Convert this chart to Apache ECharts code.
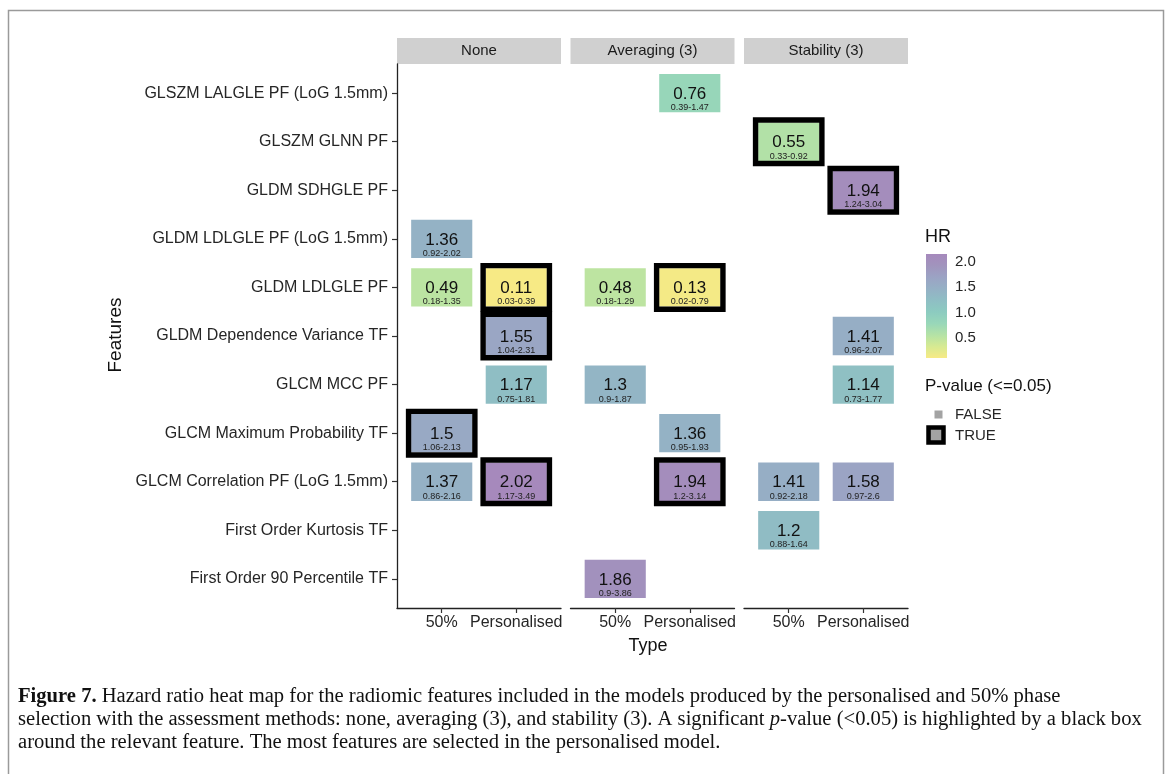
<!DOCTYPE html>
<html>
<head>
<meta charset="utf-8">
<script src="https://cdn.jsdelivr.net/npm/echarts@6/dist/echarts.min.js"></script>
<style>
html,body{margin:0;padding:0;background:#fff;}
#chart{width:1168px;height:774px;}
</style>
</head>
<body>
<div id="chart"></div>
<script>
// ---------- data ----------
const features = [
  "GLSZM LALGLE PF (LoG 1.5mm)",
  "GLSZM GLNN PF",
  "GLDM SDHGLE PF",
  "GLDM LDLGLE PF (LoG 1.5mm)",
  "GLDM LDLGLE PF",
  "GLDM Dependence Variance TF",
  "GLCM MCC PF",
  "GLCM Maximum Probability TF",
  "GLCM Correlation PF (LoG 1.5mm)",
  "First Order Kurtosis TF",
  "First Order 90 Percentile TF"
];
const types = ["50%", "Personalised"];
const methods = ["None", "Averaging (3)", "Stability (3)"];

// None
const noneFeature = ["GLDM LDLGLE PF (LoG 1.5mm)", "GLDM LDLGLE PF", "GLDM LDLGLE PF", "GLDM Dependence Variance TF", "GLCM MCC PF", "GLCM Maximum Probability TF", "GLCM Correlation PF (LoG 1.5mm)", "GLCM Correlation PF (LoG 1.5mm)"];
const noneType    = ["50%", "50%", "Personalised", "Personalised", "Personalised", "50%", "50%", "Personalised"];
const noneHR      = [1.36, 0.49, 0.11, 1.55, 1.17, 1.5, 1.37, 2.02];
const noneLow     = [0.92, 0.18, 0.03, 1.04, 0.75, 1.06, 0.86, 1.17];
const noneHigh    = [2.02, 1.35, 0.39, 2.31, 1.81, 2.13, 2.16, 3.49];
const noneSig     = [false, false, true, true, false, true, false, true];

// Averaging (3)
const avgFeature = ["GLSZM LALGLE PF (LoG 1.5mm)", "GLDM LDLGLE PF", "GLDM LDLGLE PF", "GLCM MCC PF", "GLCM Maximum Probability TF", "GLCM Correlation PF (LoG 1.5mm)", "First Order 90 Percentile TF"];
const avgType    = ["Personalised", "50%", "Personalised", "50%", "Personalised", "Personalised", "50%"];
const avgHR      = [0.76, 0.48, 0.13, 1.3, 1.36, 1.94, 1.86];
const avgLow     = [0.39, 0.18, 0.02, 0.9, 0.95, 1.2, 0.9];
const avgHigh    = [1.47, 1.29, 0.79, 1.87, 1.93, 3.14, 3.86];
const avgSig     = [false, false, true, false, false, true, false];

// Stability (3)
const stabFeature = ["GLSZM GLNN PF", "GLDM SDHGLE PF", "GLDM Dependence Variance TF", "GLCM MCC PF", "GLCM Correlation PF (LoG 1.5mm)", "GLCM Correlation PF (LoG 1.5mm)", "First Order Kurtosis TF"];
const stabType    = ["50%", "Personalised", "Personalised", "Personalised", "50%", "Personalised", "50%"];
const stabHR      = [0.55, 1.94, 1.41, 1.14, 1.41, 1.58, 1.2];
const stabLow     = [0.33, 1.24, 0.96, 0.73, 0.92, 0.97, 0.88];
const stabHigh    = [0.92, 3.04, 2.07, 1.77, 2.18, 2.6, 1.64];
const stabSig     = [true, true, false, false, false, false, false];

const hrMin = 0.11, hrMax = 2.02;
const legendTicks = [0.5, 1.0, 1.5, 2.0];
const pLegend = ["FALSE", "TRUE"];

// colour scale (viridis, reversed, light) low -> high
const hrColors = ['#f7ea85', '#d6ea92', '#b4e2a6', '#98d7b9', '#8ccbc0', '#8fbec4', '#95b0c5', '#9ba3c4', '#a194bd', '#a689bc'];

// ---------- build ----------
function build(fe, ty, hr, lo, hi, sig) {
  return hr.map((v, i) => [types.indexOf(ty[i]), features.indexOf(fe[i]), v, lo[i], hi[i], sig[i] ? 1 : 0]);
}
const panelData = [
  build(noneFeature, noneType, noneHR, noneLow, noneHigh, noneSig),
  build(avgFeature, avgType, avgHR, avgLow, avgHigh, avgSig),
  build(stabFeature, stabType, stabHR, stabLow, stabHigh, stabSig)
];

const FONT = '"Liberation Sans", Arial, sans-serif';
const SERIF = '"Liberation Serif", "Times New Roman", serif';

const panelLeft = [397, 570.5, 744];
const panelW = 164;
const panelTop = 64;
const panelH = 544;

function renderTile(params, api) {
  const c = api.coord([api.value(0), api.value(1)]);
  const s = api.size([1, 1]);
  const w = s[0] * 0.82, h = s[1] * 0.79;
  const color = api.visual('color');
  const sig = api.value(5);
  const children = [{
    type: 'rect',
    shape: { x: c[0] - w / 2, y: c[1] - h / 2, width: w, height: h },
    style: { fill: color }
  }];
  if (sig) {
    children.push({
      type: 'rect',
      shape: { x: c[0] - w / 2 - 2.6, y: c[1] - h / 2 - 2.6, width: w + 5.2, height: h + 5.2 },
      style: { fill: null, stroke: '#000', lineWidth: 5.4 }
    });
  }
  children.push({
    type: 'text',
    style: { text: String(api.value(2)), x: c[0], y: c[1] + 1, align: 'center', verticalAlign: 'middle', font: '17px ' + FONT, fill: '#111' }
  });
  children.push({
    type: 'text',
    style: { text: String(api.value(3)) + '-' + String(api.value(4)), x: c[0], y: c[1] + 14.5, align: 'center', verticalAlign: 'middle', font: '9px ' + FONT, fill: '#222' }
  });
  return { type: 'group', children: children };
}

const grids = [], xAxes = [], yAxes = [], series = [];
for (let p = 0; p < 3; p++) {
  grids.push({ left: panelLeft[p], top: panelTop, width: panelW, height: panelH });
  xAxes.push({
    type: 'value', gridIndex: p, min: -0.6, max: 1.6,
    splitLine: { show: false },
    axisLine: { show: true, onZero: false, lineStyle: { color: '#222', width: 1.3 } },
    axisTick: { show: true, customValues: [0, 1], length: 5, lineStyle: { color: '#333', width: 1.2 } },
    axisLabel: { customValues: [0, 1], formatter: v => types[Math.round(v)], fontSize: 16, fontFamily: FONT, color: '#262626', margin: 7 }
  });
  yAxes.push({
    type: 'value', gridIndex: p, min: -0.6, max: 10.6, inverse: true,
    splitLine: { show: false },
    axisLine: { show: p === 0, onZero: false, lineStyle: { color: '#222', width: 1.3 } },
    axisTick: { show: p === 0, customValues: features.map((f, i) => i), length: 5, lineStyle: { color: '#333', width: 1.2 } },
    axisLabel: { show: p === 0, customValues: features.map((f, i) => i), formatter: v => features[Math.round(v)], fontSize: 16, fontFamily: FONT, color: '#262626', margin: 9 }
  });
  series.push({
    type: 'custom', xAxisIndex: p, yAxisIndex: p, renderItem: renderTile,
    encode: { x: 0, y: 1 }, data: panelData[p], clip: false, silent: true
  });
}

// colour bar legend grid
const cbGrid = 3;
grids.push({ left: 926, top: 254, width: 21, height: 104 });
xAxes.push({ type: 'value', gridIndex: cbGrid, min: 0, max: 1, show: false });
yAxes.push({
  type: 'value', gridIndex: cbGrid, min: hrMin, max: 2.15, position: 'right',
  splitLine: { show: false }, axisLine: { show: false },
  axisTick: { show: true, inside: true, customValues: legendTicks, length: 4, lineStyle: { color: '#fff', width: 1 } },
  axisLabel: { customValues: legendTicks, formatter: v => v.toFixed(1), fontSize: 15, fontFamily: FONT, color: '#262626', margin: 8 }
});
yAxes.push({
  type: 'value', gridIndex: cbGrid, min: hrMin, max: 2.15, position: 'left',
  splitLine: { show: false }, axisLine: { show: false }, axisLabel: { show: false },
  axisTick: { show: true, inside: true, customValues: legendTicks, length: 4, lineStyle: { color: '#fff', width: 1 } }
});
series.push({
  type: 'custom', xAxisIndex: cbGrid, yAxisIndex: 3, silent: true, z: 1,
  data: [[0, hrMin, 1, 2.15]],
  renderItem: function (params, api) {
    const a = api.coord([api.value(0), api.value(1)]);
    const b = api.coord([api.value(2), api.value(3)]);
    return {
      type: 'rect',
      shape: { x: a[0], y: b[1], width: b[0] - a[0], height: a[1] - b[1] },
      style: {
        fill: {
          type: 'linear', x: 0, y: 1, x2: 0, y2: 0,
          colorStops: hrColors.map((c, i) => ({ offset: i / (hrColors.length - 1), color: c }))
        }
      }
    };
  }
});

const graphics = [
  // outer frame
  { type: 'rect', shape: { x: 8.5, y: 10.5, width: 1155, height: 800 }, style: { fill: null, stroke: '#9a9a9a', lineWidth: 1.5 }, z: 0, silent: true },
  // axis titles
  { type: 'text', x: 116, y: 335, rotation: Math.PI / 2, style: { text: 'Features', align: 'center', verticalAlign: 'middle', font: '19px ' + FONT, fill: '#111' } },
  { type: 'text', x: 648, y: 646, style: { text: 'Type', align: 'center', verticalAlign: 'middle', font: '18px ' + FONT, fill: '#111' } },
  // legend titles
  { type: 'text', x: 925, y: 237, style: { text: 'HR', align: 'left', verticalAlign: 'middle', font: '18px ' + FONT, fill: '#111' } },
  { type: 'text', x: 925, y: 386, style: { text: 'P-value (<=0.05)', align: 'left', verticalAlign: 'middle', font: '17px ' + FONT, fill: '#111' } },
  { type: 'rect', shape: { x: 934.5, y: 410.5, width: 8, height: 8 }, style: { fill: '#a3a3a3' } },
  { type: 'text', x: 955, y: 414.5, style: { text: pLegend[0], align: 'left', verticalAlign: 'middle', font: '15px ' + FONT, fill: '#262626' } },
  { type: 'rect', shape: { x: 928.5, y: 427.5, width: 15, height: 15 }, style: { fill: '#a3a3a3', stroke: '#000', lineWidth: 4.5 } },
  { type: 'text', x: 955, y: 435.5, style: { text: pLegend[1], align: 'left', verticalAlign: 'middle', font: '15px ' + FONT, fill: '#262626' } }
];
// facet strips
for (let p = 0; p < 3; p++) {
  graphics.push({ type: 'rect', shape: { x: panelLeft[p], y: 38, width: panelW, height: 26 }, style: { fill: '#d0d0d0' } });
  graphics.push({ type: 'text', x: panelLeft[p] + panelW / 2, y: 51, style: { text: methods[p], align: 'center', verticalAlign: 'middle', font: '15px ' + FONT, fill: '#1a1a1a' } });
}
// caption
const captionLines = [
  '{b|Figure 7.} Hazard ratio heat map for the radiomic features included in the models produced by the personalised and 50% phase',
  'selection with the assessment methods: none, averaging (3), and stability (3). A significant {i|p}-value (<0.05) is highlighted by a black box',
  'around the relevant feature. The most features are selected in the personalised model.'
];
captionLines.forEach((t, i) => {
  graphics.push({
    type: 'text', x: 18, y: 697 + i * 23, scaleX: 1.03,
    style: {
      text: t, align: 'left', verticalAlign: 'middle', font: '20px ' + SERIF, fill: '#111',
      rich: {
        b: { font: 'bold 20px ' + SERIF, fill: '#111' },
        i: { font: 'italic 20px ' + SERIF, fill: '#111' }
      }
    }
  });
});

const chart = echarts.init(document.getElementById('chart'), null, { renderer: 'canvas' });
chart.setOption({
  backgroundColor: '#fff',
  animation: false,
  grid: grids,
  xAxis: xAxes,
  yAxis: yAxes,
  visualMap: {
    type: 'continuous', show: false, min: hrMin, max: hrMax, dimension: 2,
    seriesIndex: [0, 1, 2], inRange: { color: hrColors }
  },
  series: series,
  graphic: graphics
});
</script>
</body>
</html>
